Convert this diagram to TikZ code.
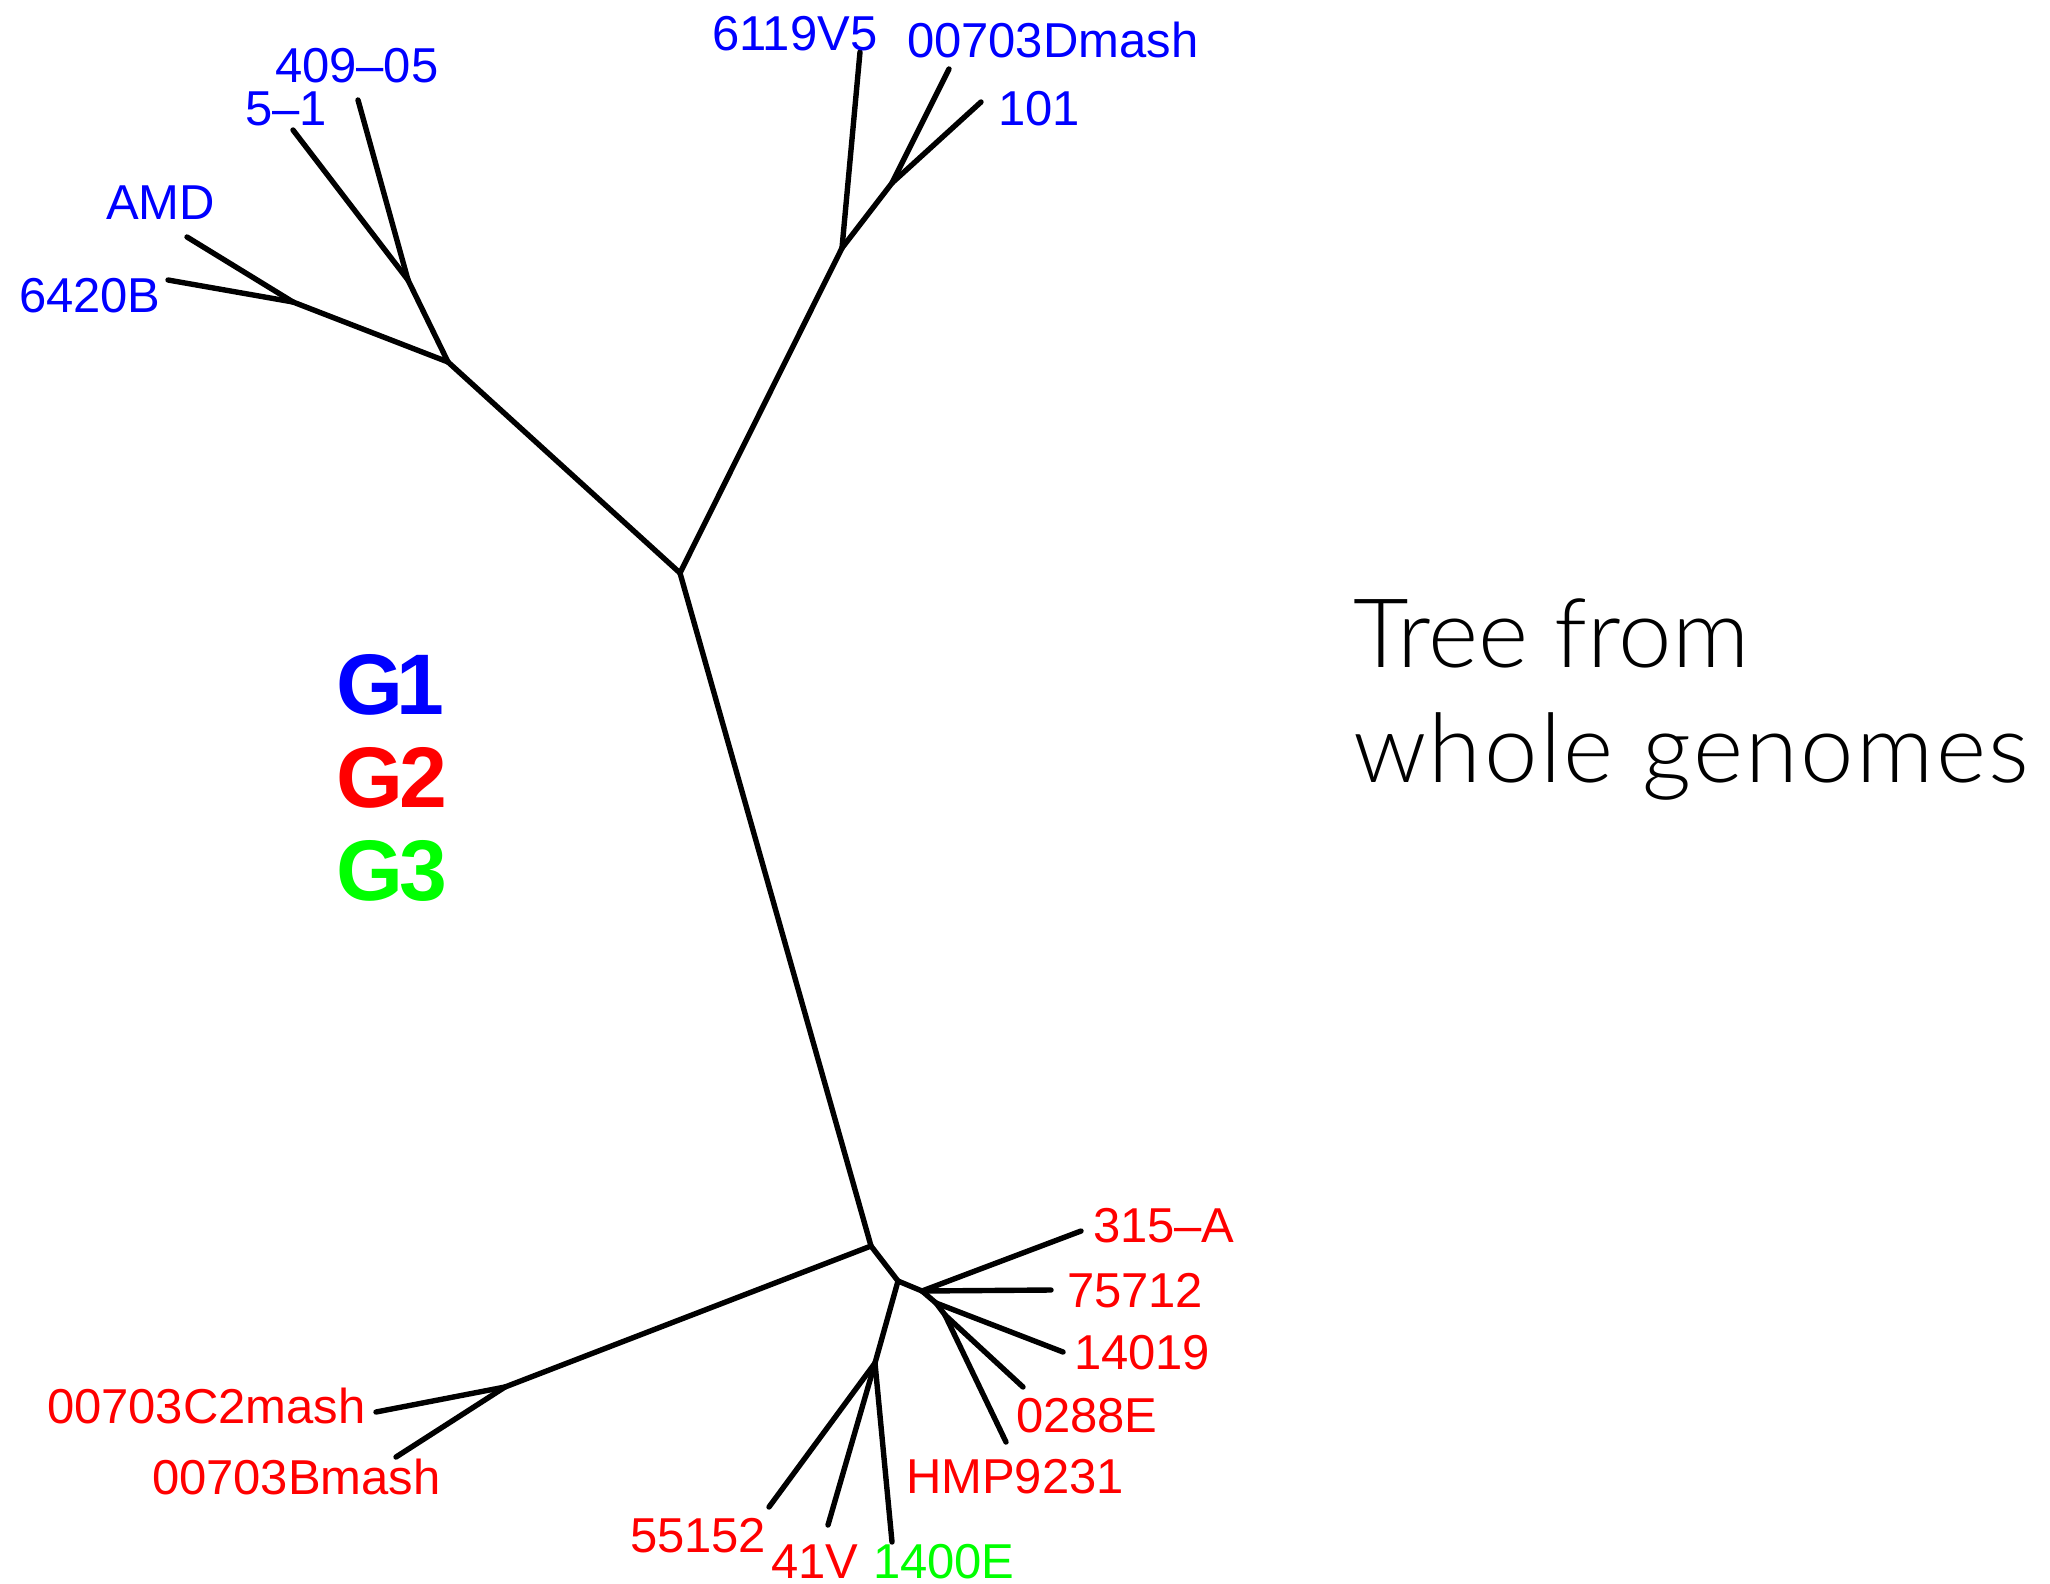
\documentclass[tikz,border=0pt]{standalone}
\usepackage{fontspec}
\setmainfont{Liberation Sans}
\newfontfamily\lightfont{Lato Light}
\newfontfamily\lightfontwide{Lato Light}[LetterSpace=2.5]
\definecolor{gblue}{RGB}{0,0,255}
\definecolor{gred}{RGB}{255,0,0}
\definecolor{ggreen}{RGB}{0,255,0}
\begin{document}
\begin{tikzpicture}[x=0.5pt,y=-0.5pt,
  branch/.style={line width=2.7pt, line cap=round, line join=round, black},
  tiplab/.style={anchor=base west, inner sep=0pt, outer sep=0pt, font=\fontsize{24.5}{29}\selectfont},
  bluelab/.style={tiplab, text=gblue},
  redlab/.style={tiplab, text=gred},
  greenlab/.style={tiplab, text=ggreen},
  grouplab/.style={anchor=base west, inner sep=0pt, outer sep=0pt, font=\fontsize{43}{50}\selectfont\bfseries},
  titlelab/.style={anchor=base west, inner sep=0pt, outer sep=0pt, font=\fontsize{48}{57}\lightfont}
]
\useasboundingbox (0,0) rectangle (2050,1584);
% internal nodes
\coordinate (R) at (680,573);
\coordinate (C) at (448,362);
\coordinate (B) at (293,302);
\coordinate (A) at (408,280);
\coordinate (E) at (842,248);
\coordinate (D) at (892,183);
\coordinate (F) at (871,1246);
\coordinate (G) at (505,1387);
\coordinate (H) at (898,1281);
\coordinate (I) at (922,1291);
\coordinate (J) at (936,1303);
\coordinate (K) at (945,1315);
\coordinate (L) at (875,1363);
% tips
\coordinate (tAMD) at (187,237);
\coordinate (t6420) at (168,280);
\coordinate (t51) at (293,130);
\coordinate (t409) at (358,100);
\coordinate (t6119) at (860,52);
\coordinate (tD) at (949,69);
\coordinate (t101) at (981,102);
\coordinate (tC2) at (376,1412);
\coordinate (tB) at (396,1457);
\coordinate (t315) at (1081,1231);
\coordinate (t757) at (1051,1290);
\coordinate (t140) at (1063,1352);
\coordinate (t0288) at (1023,1387);
\coordinate (tHMP) at (1006,1442);
\coordinate (t551) at (769,1507);
\coordinate (t41V) at (828,1525);
\coordinate (t1400) at (892,1542);
% branches
\draw[branch] (R) -- (C);
\draw[branch] (C) -- (B);
\draw[branch] (B) -- (tAMD);
\draw[branch] (B) -- (t6420);
\draw[branch] (C) -- (A);
\draw[branch] (A) -- (t51);
\draw[branch] (A) -- (t409);
\draw[branch] (R) -- (E);
\draw[branch] (E) -- (t6119);
\draw[branch] (E) -- (D);
\draw[branch] (D) -- (tD);
\draw[branch] (D) -- (t101);
\draw[branch] (R) -- (F);
\draw[branch] (F) -- (G);
\draw[branch] (G) -- (tC2);
\draw[branch] (G) -- (tB);
\draw[branch] (F) -- (H);
\draw[branch] (H) -- (I);
\draw[branch] (I) -- (t315);
\draw[branch] (I) -- (t757);
\draw[branch] (I) -- (J);
\draw[branch] (J) -- (t140);
\draw[branch] (J) -- (K);
\draw[branch] (K) -- (t0288);
\draw[branch] (K) -- (tHMP);
\draw[branch] (H) -- (L);
\draw[branch] (L) -- (t551);
\draw[branch] (L) -- (t41V);
\draw[branch] (L) -- (t1400);
% tip labels
\node[bluelab] (l409) at (275,83) {409–05};
\node[bluelab] (l51) at (245,126) {5–1};
\node[bluelab] (lAMD) at (106,219) {AMD};
\node[bluelab] (l6420) at (19,312) {6420B};
\node[bluelab] (l6119) at (712,51) {6119V5};
\node[bluelab] (lD) at (907,58) {00703Dmash};
\node[bluelab] (l101) at (998,126) {101};
\node[redlab] (l315) at (1093,1242) {315–A};
\node[redlab] (l757) at (1067,1307) {75712};
\node[redlab] (l140) at (1074,1369) {14019};
\node[redlab] (l0288) at (1016,1432) {0288E};
\node[redlab] (lHMP) at (906,1493) {HMP9231};
\node[redlab] (l551) at (630,1552) {55152};
\node[redlab] (l41V) at (771,1578) {41V};
\node[greenlab] (l1400) at (873,1578) {1400E};
\node[redlab] (lC2) at (47,1423) {00703C2mash};
\node[redlab] (lB) at (152,1494) {00703Bmash};
% group legend
\node[grouplab, text=gblue] (g1) at (336,714) {G\kern-0.08em 1};
\node[grouplab, text=gred] (g2) at (336,807) {G\kern-0.04em 2};
\node[grouplab, text=ggreen] (g3) at (336,900) {G\kern-0.04em 3};
% title
\node[titlelab] (t1) at (1353,667) {Tree from};
\node[titlelab, font=\fontsize{48}{57}\lightfontwide] (t2) at (1353,782) {whole genomes};
\end{tikzpicture}
\end{document}
